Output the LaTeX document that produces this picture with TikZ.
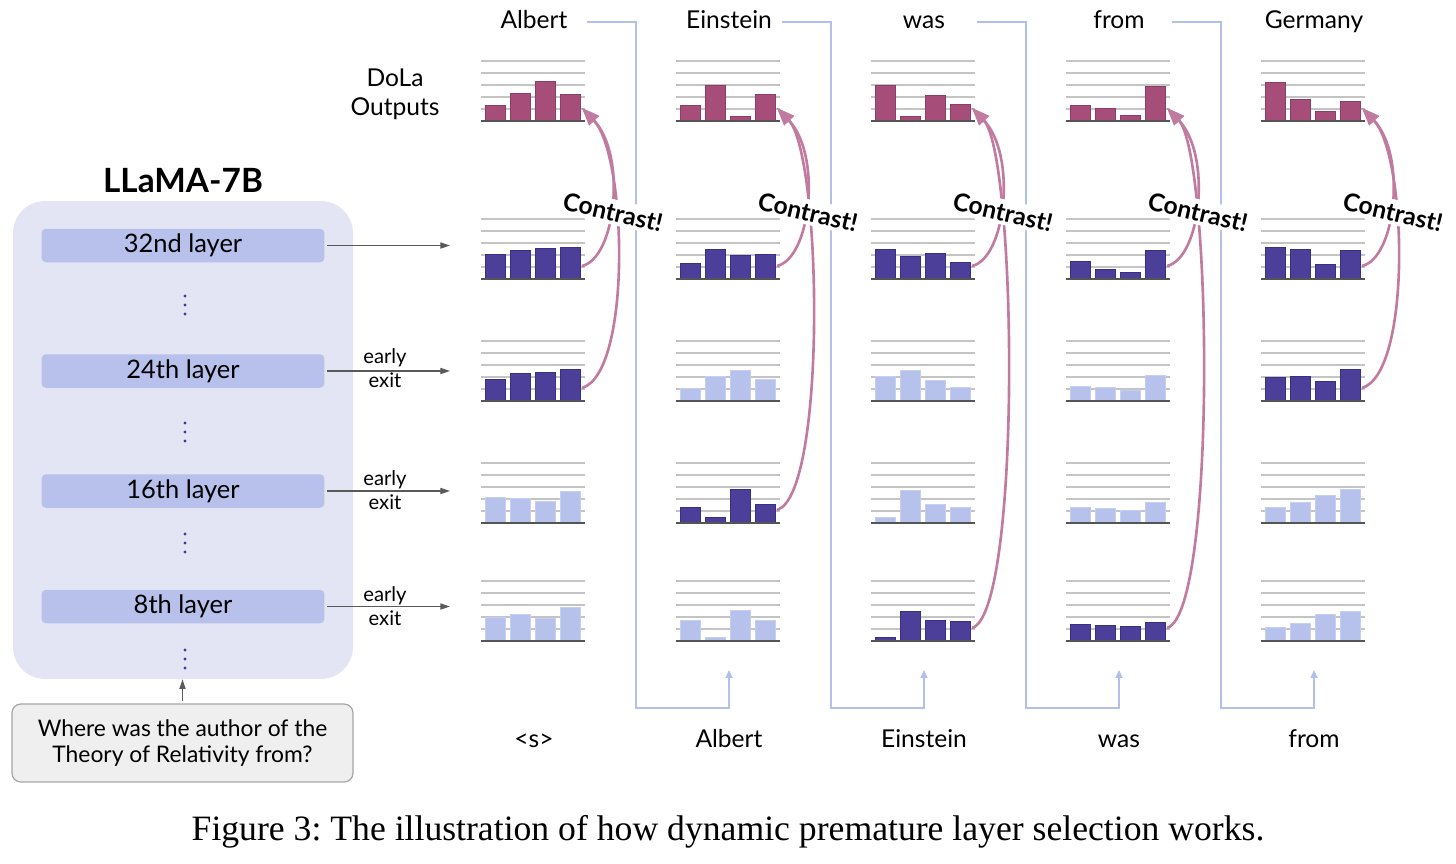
\documentclass[tikz,border=0pt]{standalone}
\usepackage{fontspec}
\setmainfont{Lato}
\newfontfamily\capfont{Liberation Serif}
\usetikzlibrary{arrows.meta,calc,positioning}

\definecolor{cLlama}{HTML}{E3E5F5}
\definecolor{cLayer}{HTML}{B7C1EC}
\definecolor{cDots}{HTML}{3F3A99}
\definecolor{cPink}{HTML}{A64D79}
\definecolor{cPinkLine}{HTML}{8E3D66}
\definecolor{cDark}{HTML}{4B3F99}
\definecolor{cDarkLine}{HTML}{3A2E85}
\definecolor{cLight}{HTML}{B7C2EC}
\definecolor{cLightLine}{HTML}{C6CEF1}
\definecolor{cGrid}{HTML}{C4C4C4}
\definecolor{cAxis}{HTML}{555555}
\definecolor{cCurve}{HTML}{C27BA0}
\definecolor{cFeed}{HTML}{B4C0EC}
\definecolor{cQfill}{HTML}{EFEFEF}
\definecolor{cQline}{HTML}{A6A6A6}
\definecolor{cArrow}{HTML}{5A5A5A}

\tikzset{
	word/.style={font=\fontsize{14}{16}\selectfont, text height=10pt, text depth=3pt},
	layerbox/.style={fill=cLayer, rounded corners=2.5pt, minimum width=5.66cm, minimum height=0.67cm, inner sep=0pt, font=\fontsize{14.5}{16}\selectfont},
	exitlabel/.style={align=center, font=\fontsize{11.5}{13.6}\selectfont},
	exitarrow/.style={draw=cArrow, line width=0.7pt, shorten <=1.5pt, -{Triangle[length=5.5pt,width=3.5pt]}},
	chartgrid/.style={draw=cGrid, line width=0.75pt},
	chartaxis/.style={draw=cAxis, line width=0.9pt},
	pinkbar/.style={fill=cPink, draw=cPinkLine, line width=0.4pt},
	darkbar/.style={fill=cDark, draw=cDarkLine, line width=0.4pt},
	lightbar/.style={fill=cLight, draw=cLightLine, line width=0.4pt},
	contrast/.style={draw=cCurve, line width=1.5pt, -{Triangle[length=10pt,width=7.5pt]}},
	contrastlabel/.style={fill=white, inner sep=2pt, rotate=-13, font=\bfseries\fontsize{14}{16}\selectfont},
	feedback/.style={draw=cFeed, line width=0.8pt, -{Triangle[length=4.5pt,width=4pt]}}
}

% one small bar chart: x of left end, y of axis, bar style, bar heights, name of its end point
\def\barchart#1#2#3#4#5{%
	\foreach \k in {1,...,5} \draw[chartgrid] (#1,#2-12*\k) -- ++(104,0);
	\foreach \h [count=\n from 0] in {#4} \draw[#3] (#1+4+25*\n,#2) rectangle ++(20,-\h);
	\draw[chartaxis] (#1,#2) -- ++(104,0);
	\coordinate (#5) at (#1+101,#2-13);
}

\begin{document}
\begin{tikzpicture}[x=0.02cm, y=-0.02cm]
			%%%%% START %%%%%
			\fill[white] (0,0) rectangle (1456,863);
			
			%%%%% LLaMA side %%%%%
			\node[fill=cLlama, rounded corners=0.64cm, minimum width=6.8cm, minimum height=9.56cm] (llama) at (183,440) {};
			\node[font=\bfseries\fontsize{19}{21}\selectfont] (ltitle) at (183,181) {LLaMA-7B};
			
			\node[layerbox] (l32) at (183,245.5) {32nd layer};
			\node[layerbox] (l24) at (183,371) {24th layer};
			\node[layerbox] (l16) at (183,491) {16th layer};
			\node[layerbox] (l8) at (183,606.5) {8th layer};
			
			\foreach \y in {305,432,543,659}
				\foreach \d in {-9,0,9} \fill[cDots] (185,\y+\d) circle (0.9pt);
			
			\node[fill=cQfill, draw=cQline, line width=0.7pt, rounded corners=5pt, minimum width=6.82cm, minimum height=1.56cm, align=center, font=\fontsize{13}{14.7}\selectfont] (qbox) at (182.5,743) {Where was the author of the\\Theory of Relativity from?};
			\draw[exitarrow] (qbox.north) -- (qbox.north |- llama.south);
			
			\coordinate (xend) at (450,0);
			\draw[exitarrow] (l32) -- (l32 -| xend);
			\draw[exitarrow] (l24) -- (l24 -| xend);
			\draw[exitarrow] (l16) -- (l16 -| xend);
			\draw[exitarrow] (l8) -- (l8 -| xend);
			
			\node[exitlabel] (e24) at (385,368) {early\\exit};
			\node[exitlabel] (e16) at (385,490) {early\\exit};
			\node[exitlabel] (e8) at (385,606) {early\\exit};
			
			\node[word, align=center, text height=, text depth=, font=\fontsize{14}{16.4}\selectfont] (dola) at (395,94) {DoLa\\Outputs};
			
			%%%%% words %%%%%
			\node[word] (t1) at (534,22) {Albert};
			\node[word] (t2) at (729,22) {Einstein};
			\node[word] (t3) at (924,22) {was};
			\node[word] (t4) at (1119,22) {from};
			\node[word] (t5) at (1314,22) {Germany};
			
			\node[word] (b1) at (534,741) {<s>};
			\node[word] (b2) at (729,741) {Albert};
			\node[word] (b3) at (924,741) {Einstein};
			\node[word] (b4) at (1119,741) {was};
			\node[word] (b5) at (1314,741) {from};
			
			\foreach \i [evaluate=\i as \j using int(\i+1)] in {1,...,4}
				\draw[feedback] ($(t\i)+(53,0)$) -- ++(49,0) |- ($(b\j)+(0,-33)$) -- ($(b\j)+(0,-71)$);
			
			%%%%% charts %%%%%
			\barchart{481}{121}{pinkbar}{16,28,40,27}{c1r0}
			\barchart{481}{279}{darkbar}{25,29,31,32}{c1r32}
			\barchart{481}{401}{darkbar}{22,28,29,32}{c1r24}
			\barchart{481}{523}{lightbar}{26,25,22,32}{c1r16}
			\barchart{481}{641}{lightbar}{24,27,23,34}{c1r8}
			
			\barchart{676}{121}{pinkbar}{16,36,5,27}{c2r0}
			\barchart{676}{279}{darkbar}{16,30,24,25}{c2r32}
			\barchart{676}{401}{lightbar}{13,25,31,22}{c2r24}
			\barchart{676}{523}{darkbar}{16,6,34,19}{c2r16}
			\barchart{676}{641}{lightbar}{21,4,31,21}{c2r8}
			
			\barchart{871}{121}{pinkbar}{36,5,26,17}{c3r0}
			\barchart{871}{279}{darkbar}{30,23,26,17}{c3r32}
			\barchart{871}{401}{lightbar}{25,31,21,14}{c3r24}
			\barchart{871}{523}{lightbar}{6,33,19,16}{c3r16}
			\barchart{871}{641}{darkbar}{4,30,21,20}{c3r8}
			
			\barchart{1066}{121}{pinkbar}{16,13,6,35}{c4r0}
			\barchart{1066}{279}{darkbar}{18,10,7,29}{c4r32}
			\barchart{1066}{401}{lightbar}{15,14,11,26}{c4r24}
			\barchart{1066}{523}{lightbar}{16,15,13,21}{c4r16}
			\barchart{1066}{641}{darkbar}{17,16,15,19}{c4r8}
			
			\barchart{1261}{121}{pinkbar}{39,22,10,20}{c5r0}
			\barchart{1261}{279}{darkbar}{32,30,15,29}{c5r32}
			\barchart{1261}{401}{darkbar}{24,25,20,32}{c5r24}
			\barchart{1261}{523}{lightbar}{16,21,28,34}{c5r16}
			\barchart{1261}{641}{lightbar}{14,18,27,30}{c5r8}
			
			%%%%% contrast curves %%%%%
			\foreach \i/\s in {1/24, 2/16, 3/8, 4/8, 5/24} {
				\draw[contrast] (c\i r32) .. controls +(34,-8) and +(45,47) .. (c\i r0);
				\draw[contrast] (c\i r\s) .. controls +(50,-15) and +(45,47) .. (c\i r0);
				\node[contrastlabel] (k\i) at (418+195*\i,212) {Contrast!};
			}
			
			\node[font=\capfont\fontsize{20.3}{22}\selectfont] (cap) at (728,832) {\frenchspacing Figure 3: The illustration of how dynamic premature layer selection works.};
			%%%%% END %%%%%
\end{tikzpicture}
\end{document}
